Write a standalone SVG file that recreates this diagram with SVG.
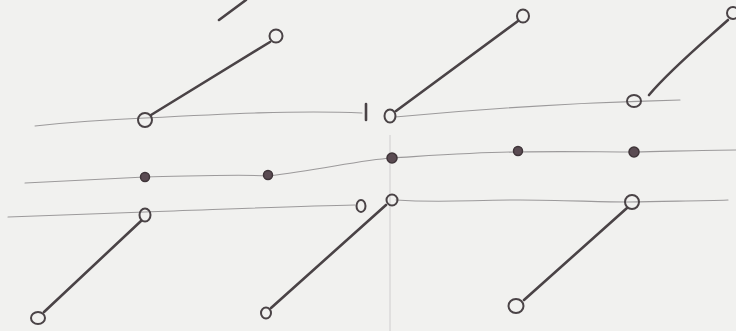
<svg xmlns="http://www.w3.org/2000/svg" width="736" height="331" viewBox="0 0 736 331">
<style>
.bg{fill:#f1f1ef}
.thin{fill:none;stroke:#9c9a9b;stroke-width:1.1;stroke-linecap:round}
.faint{fill:none;stroke:#cfcdce;stroke-width:1}
.rod{fill:none;stroke:#4a4346;stroke-width:2.6;stroke-linecap:round}
.ring{fill:none;stroke:#4a4346;stroke-width:2}
.dot{fill:#5a4b52;stroke:#3f3539;stroke-width:1.5}
</style>
<rect class="bg" x="0" y="0" width="736" height="331"/>
<g id="connectors">
  <path class="thin" d="M35,126 C80,121 120,119 145,118 C220,114 300,110 362,113"/>
  <path class="thin" d="M395,117 C480,109 560,103 680,100"/>
  <path class="thin" d="M25,183 C80,180 120,178 145,177 C200,176 240,174 268,176 C320,170 360,160 392,158 C440,155 480,152 518,152 C560,151 600,152 634,152 C680,151 710,150 736,150"/>
  <path class="thin" d="M8,217 C60,215 110,213 145,212 C230,209 300,206 355,205"/>
  <path class="thin" d="M396,200 C440,203 470,200 520,200 C560,200 600,202 628,202 C670,201 700,201 728,200"/>
  <path class="faint" d="M390,135 L390,331"/>
  <path class="rod" d="M219,20 L246,0"/>
  <path class="rod" d="M366,104 L366,120"/>
  <path class="rod" d="M151,115 L270,42"/>
  <path class="rod" d="M396,111 L518,21"/>
  <path class="rod" d="M649,95 C670,70 700,45 728,20"/>
  <path class="rod" d="M141,221 L44,312"/>
  <path class="rod" d="M386,205 L271,308"/>
  <path class="rod" d="M627,208 L524,300"/>
</g>
<g id="n-top-a1"><circle class="ring" cx="145" cy="120" r="7"/></g>
<g id="n-top-a2"><circle class="ring" cx="276" cy="36" r="6.5"/></g>
<g id="n-top-b1"><ellipse class="ring" cx="390" cy="116" rx="5.5" ry="6.5"/></g>
<g id="n-top-b2"><ellipse class="ring" cx="523" cy="16" rx="6" ry="6.5"/></g>
<g id="n-top-c1"><ellipse class="ring" cx="634" cy="101" rx="7" ry="6"/></g>
<g id="n-top-c2"><circle class="ring" cx="733" cy="13" r="6"/></g>
<g id="n-mid-1"><circle class="dot" cx="145" cy="177" r="4.5"/></g>
<g id="n-mid-2"><circle class="dot" cx="268" cy="175" r="4.5"/></g>
<g id="n-mid-3"><circle class="dot" cx="392" cy="158" r="5"/></g>
<g id="n-mid-4"><circle class="dot" cx="518" cy="151" r="4.5"/></g>
<g id="n-mid-5"><circle class="dot" cx="634" cy="152" r="5"/></g>
<g id="n-bot-a1"><ellipse class="ring" cx="145" cy="215" rx="5.5" ry="6.5"/></g>
<g id="n-bot-a2"><ellipse class="ring" cx="38" cy="318" rx="7" ry="6"/></g>
<g id="n-bot-b0"><ellipse class="ring" cx="361" cy="206" rx="4.5" ry="6"/></g>
<g id="n-bot-b1"><circle class="ring" cx="392" cy="200" r="5.5"/></g>
<g id="n-bot-b2"><ellipse class="ring" cx="266" cy="313" rx="5" ry="5.5"/></g>
<g id="n-bot-c1"><circle class="ring" cx="632" cy="202" r="7"/></g>
<g id="n-bot-c2"><ellipse class="ring" cx="516" cy="306" rx="7.5" ry="7"/></g>
</svg>
